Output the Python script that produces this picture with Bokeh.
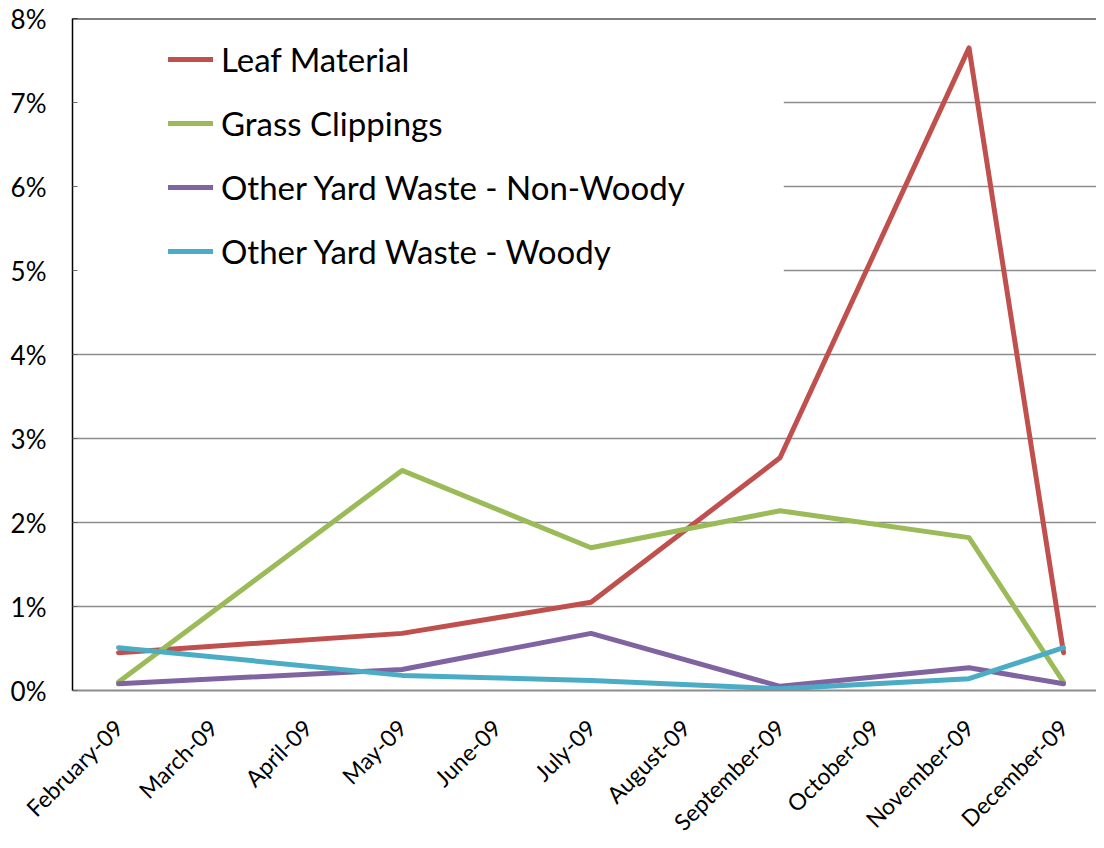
from bokeh.plotting import figure
from bokeh.models import (Range1d, FixedTicker, PrintfTickFormatter, Legend, LegendItem,
                          Span, BoxAnnotation)
from bokeh.embed import file_html
from bokeh.resources import INLINE
import math

months = ["February-09", "March-09", "April-09", "May-09", "June-09", "July-09",
          "August-09", "September-09", "October-09", "November-09", "December-09"]
sample_months = ["February-09", "May-09", "July-09", "September-09", "November-09", "December-09"]

leaf_material = [0.45, 0.68, 1.05, 2.77, 7.65, 0.45]
grass_clippings = [0.10, 2.62, 1.70, 2.14, 1.82, 0.10]
other_non_woody = [0.08, 0.25, 0.68, 0.05, 0.27, 0.08]
other_woody = [0.51, 0.18, 0.12, 0.02, 0.14, 0.51]

series_names = ["Leaf Material", "Grass Clippings",
                "Other Yard Waste - Non-Woody", "Other Yard Waste - Woody"]
series_values = [leaf_material, grass_clippings, other_non_woody, other_woody]
colors = ["#C0504D", "#9BBB59", "#8064A2", "#4BACC6"]

y_ticks = [0, 1, 2, 3, 4, 5, 6, 7, 8]

FONT = "Lato"

p = figure(width=1096, height=848, output_backend="svg", toolbar_location=None,
           x_range=Range1d(-0.487, 10.349), y_range=Range1d(0, 8),
           min_border_left=72, min_border_right=0, min_border_top=18, min_border_bottom=158)
p.outline_line_color = None
p.background_fill_color = "white"

# grid
p.xgrid.grid_line_color = None
p.ygrid.grid_line_color = "#8c8c8c"
p.ygrid.grid_line_width = 1.5
p.ygrid.ticker = FixedTicker(ticks=y_ticks)

# white area behind the legend (hides part of gridlines)
legend_bg = BoxAnnotation(right=7.04, bottom=4.5, fill_color="white", fill_alpha=1.0,
                          line_color=None, level="underlay")
p.add_layout(legend_bg)

# top border line
p.add_layout(Span(location=8, dimension="width", line_color="black", line_width=2))

x_idx = [months.index(m) for m in sample_months]
renderers = []
for name, vals, c in zip(series_names, series_values, colors):
    r = p.line(x_idx, vals, line_color=c, line_width=5, line_join="round", line_cap="round")
    renderers.append((name, r))

# axes
xa = p.xaxis[0]
xa.ticker = FixedTicker(ticks=list(range(len(months))))
xa.major_label_overrides = {i: m for i, m in enumerate(months)}
xa.major_label_orientation = math.pi / 4
xa.major_label_text_font = FONT
xa.major_label_text_font_size = "23px"
xa.major_label_text_color = "black"
xa.major_tick_line_color = None
xa.minor_tick_line_color = None
xa.axis_line_color = "#8c8c8c"
xa.axis_line_width = 2
xa.major_label_standoff = 27

ya = p.yaxis[0]
ya.ticker = FixedTicker(ticks=y_ticks)
ya.formatter = PrintfTickFormatter(format="%d%%")
ya.major_label_text_font = FONT
ya.major_label_text_font_size = "26px"
ya.major_label_text_color = "black"
ya.axis_line_color = "black"
ya.axis_line_width = 1.5
ya.major_tick_in = 5
ya.major_tick_out = 0
ya.major_tick_line_color = "#666666"
ya.minor_tick_line_color = None
ya.major_label_standoff = 26

legend = Legend(items=[LegendItem(label=n, renderers=[r]) for n, r in renderers],
                location=(96, 419), padding=0, margin=0,
                background_fill_alpha=0, border_line_color=None,
                label_text_font=FONT, label_text_font_size="33px", label_text_color="black",
                label_height=40, glyph_height=40, glyph_width=45, spacing=24,
                label_standoff=8)
p.add_layout(legend, "center")

open("out.html", "w").write(file_html(p, INLINE))
